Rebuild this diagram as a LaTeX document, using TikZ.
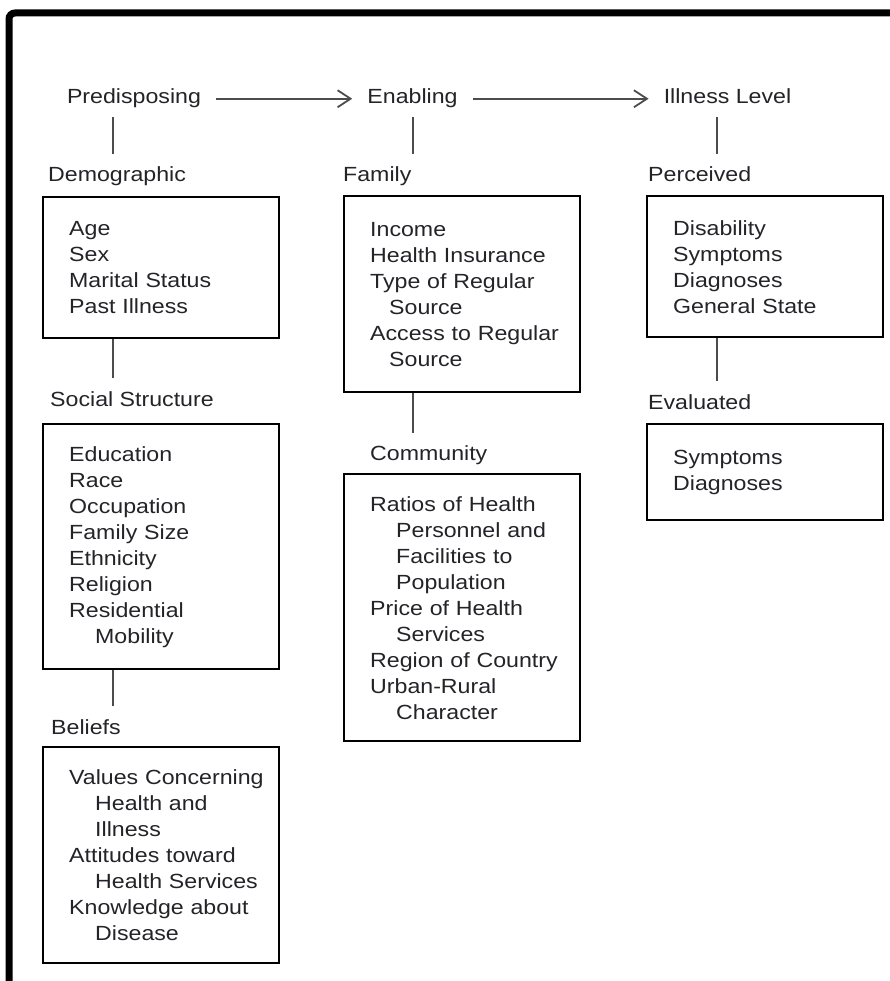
\documentclass[tikz,border=0pt]{standalone}
\usepackage{fontspec}
\setmainfont{Liberation Sans}[FakeStretch=1.13]
\usepackage{xcolor}
\usetikzlibrary{arrows.meta,positioning,calc}
\definecolor{inkgray}{RGB}{35,35,40}
\newcommand{\diagfont}{\fontsize{20.5}{26}\selectfont\hyphenpenalty=10000\exhyphenpenalty=10000\hbadness=10000\hfuzz=40pt}
\newcommand{\cont}[1][26pt]{\hspace*{#1}}

\begin{document}
\begin{tikzpicture}[x=1pt,y=1pt]
    % Define styles
    \tikzstyle{level} = [font=\diagfont, text=inkgray, anchor=base, inner xsep=15, inner ysep=8.5, text height=15, text depth=4.5]
    \tikzstyle{group} = [font=\diagfont, text=inkgray, anchor=base west, inner xsep=0, inner ysep=12, text height=15.5, text depth=4.5]
    \tikzstyle{factors} = [rectangle, draw, line width=2.4, anchor=north west, align=left, text width=184, inner xsep=26, font=\diagfont, text=inkgray]
    \tikzstyle{link} = [line width=1.8, black!70]
    \tikzstyle{flow} = [link, -{Straight Barb[length=13pt,width=17pt]}]

    % Frame
    \useasboundingbox (0,0) rectangle (890,-981);
    \clip (0,0) rectangle (890,-981);
    \draw[line width=7, rounded corners=6] (9,-995) -- (9,-13) -- (905,-13);

    % Headers
    \node[level] (predisposing) at (134,-104) {Predisposing};
    \node[level] (enabling) at (412.5,-104) {Enabling};
    \node[level] (illness) at (727.5,-104) {Illness Level};

    % Predisposing
    \node[group] (demographic) at (48,-182) {Demographic};
    \node[factors, minimum height=141] (demobox) at (42,-196) {Age\\Sex\\Marital Status\\Past Illness};
    \node[group] (social) at (50,-406) {Social Structure};
    \node[factors, minimum height=245] (socialbox) at (42,-423) {Education\\Race\\Occupation\\Family Size\\Ethnicity\\Religion\\Residential\\ \cont Mobility};
    \node[group] (beliefs) at (51,-734) {Beliefs};
    \node[factors, minimum height=216] (beliefsbox) at (42,-746) {Values~Concerning\\ \cont Health and\\ \cont Illness\\Attitudes~toward\\ \cont Health~Services\\Knowledge~about\\ \cont Disease};

    % Enabling
    \node[group] (family) at (343,-182) {Family};
    \node[factors, minimum height=196] (familybox) at (343,-195) {Income\\Health~Insurance\\Type~of~Regular\\ \cont[19pt]Source\\Access~to~Regular\\ \cont[19pt]Source};
    \node[group] (community) at (370,-460.5) {Community};
    \node[factors, minimum height=267] (communitybox) at (343,-473) {Ratios~of~Health\\ \cont Personnel~and\\ \cont Facilities~to\\ \cont Population\\Price~of~Health\\ \cont Services\\Region~of~Country\\Urban-Rural\\ \cont Character};

    % Illness Level
    \node[group] (perceived) at (648,-182) {Perceived};
    \node[factors, minimum height=141] (perceivedbox) at (646,-195) {Disability\\Symptoms\\Diagnoses\\General State};
    \node[group] (evaluated) at (648,-409) {Evaluated};
    \node[factors, minimum height=96] (evaluatedbox) at (646,-423) {Symptoms\\Diagnoses};

    % Spines
    \coordinate (leftspine) at ([xshift=71]demobox.north west);
    \coordinate (midspine) at ([xshift=70]familybox.north west);
    \coordinate (rightspine) at ([xshift=71]perceivedbox.north west);

    % Arrows
    \draw[flow] (predisposing.east) -- (enabling.west);
    \draw[flow] (enabling.east) -- (illness.west);

    % Links
    \draw[link] (leftspine |- predisposing.south) -- (leftspine |- demographic.north);
    \draw[link] (leftspine |- demobox.south) -- (leftspine |- social.north);
    \draw[link] (leftspine |- socialbox.south) -- (leftspine |- beliefs.north);
    \draw[link] (midspine |- enabling.south) -- (midspine |- family.north);
    \draw[link] (midspine |- familybox.south) -- (midspine |- community.north);
    \draw[link] (rightspine |- illness.south) -- (rightspine |- perceived.north);
    \draw[link] (rightspine |- perceivedbox.south) -- (rightspine |- evaluated.north);

\end{tikzpicture}
\end{document}
